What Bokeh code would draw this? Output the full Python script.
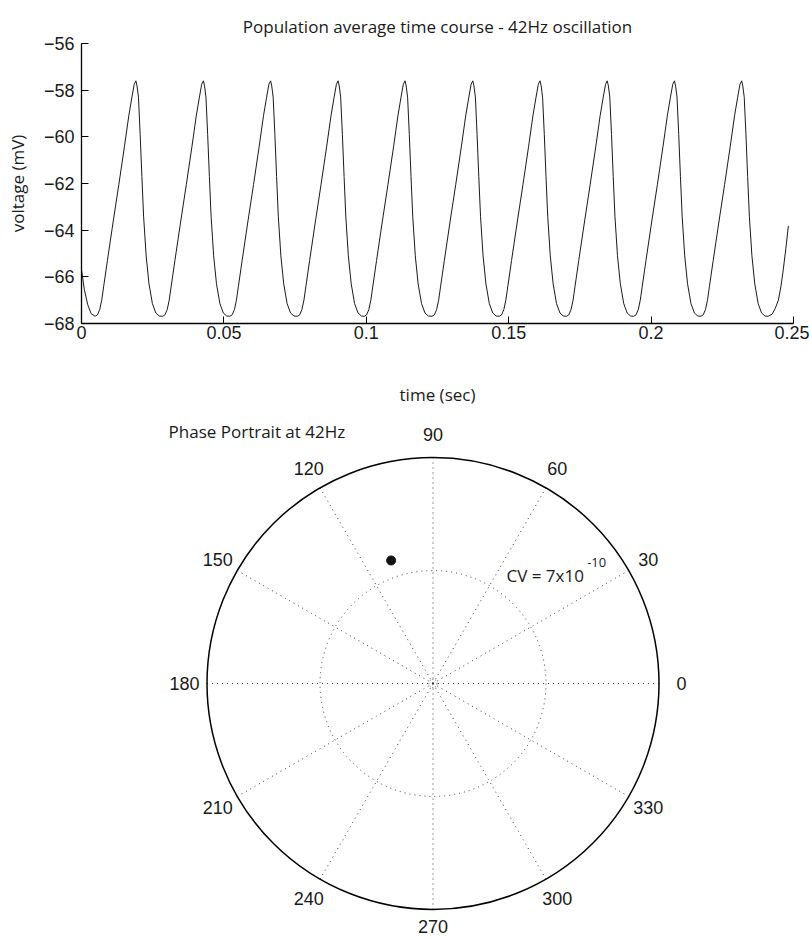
import numpy as np
from bokeh.plotting import figure
from bokeh.layouts import column
from bokeh.models import Range1d, FixedTicker, Label, ColumnDataSource
from bokeh.core.properties import value
from bokeh.embed import file_html
from bokeh.resources import INLINE

# ---------------- data: top panel ----------------
top_title = "Population average time course - 42Hz oscillation"
x_label = "time (sec)"
y_label = "voltage (mV)"
x_ticks = [0, 0.05, 0.1, 0.15, 0.2, 0.25]
x_tick_labels = ["0", "0.05", "0.1", "0.15", "0.2", "0.25"]
y_ticks = [-68, -66, -64, -62, -60, -58, -56]
y_tick_labels = ["\u221268", "\u221266", "\u221264", "\u221262", "\u221260", "\u221258", "\u221256"]

# times of the ten peaks (s)
peak_times = [0.0191, 0.0428, 0.0664, 0.0901, 0.1136, 0.1374, 0.1610, 0.1846, 0.2082, 0.2318]
# one cycle read around a peak: offset from the peak (s) and voltage (mV)
cycle_dt = [-0.0143, -0.0135, -0.0127, -0.0120, -0.0113, -0.0100, -0.0080, -0.0060,
            -0.0040, -0.0025, -0.0014, -0.0006, 0.0, 0.0004, 0.0009, 0.0015, 0.0021,
            0.0027, 0.0036, 0.0046, 0.0058, 0.0070, 0.0082]
cycle_v = [-67.69, -67.63, -67.40, -67.00, -66.40, -65.30, -63.65, -62.05,
           -60.40, -59.10, -58.30, -57.75, -57.60, -57.82, -58.30, -59.90, -61.70,
           -63.40, -65.10, -66.30, -67.15, -67.55, -67.68]
# start of the trace before the first trough, and its end after the last peak
lead_t = [0.0, 0.0010, 0.0022, 0.0034]
lead_v = [-65.70, -66.55, -67.20, -67.58]
tail_t = [0.2411, 0.2425, 0.2436, 0.2447, 0.2456, 0.2464, 0.2473, 0.2482]
tail_v = [-67.69, -67.60, -67.35, -67.00, -66.40, -65.70, -64.80, -63.82]

# ---------------- data: polar panel ----------------
polar_title = "Phase Portrait at 42Hz"
angle_ticks = [0, 30, 60, 90, 120, 150, 180, 210, 240, 270, 300, 330]
angle_labels = ["0", "30", "60", "90", "120", "150", "180", "210", "240", "270", "300", "330"]
inner_ring = [0.5]
center_ring = [0.018]
outer_ring = [1.0]
phase_deg = [108.8]
phase_r = [0.575]
cv_text = "CV = 7x10"
cv_exp = "-10"

# ---------------- build trace ----------------
t_vals = list(lead_t)
v_vals = list(lead_v)
for pk in peak_times:
    t_vals += [pk + d for d in cycle_dt]
    v_vals += list(cycle_v)
t_vals += tail_t
v_vals += tail_v
trace = ColumnDataSource(dict(t=t_vals, v=v_vals))

TXT = "#1a1a1a"
SANS = "Liberation Sans"
MYR = "Open Sans"
BL, BR = 81, 16

p1 = figure(width=809, height=410, x_range=Range1d(0, 0.25), y_range=Range1d(-68, -56),
            output_backend="svg", toolbar_location=None,
            min_border_left=BL, min_border_right=BR, min_border_top=43, min_border_bottom=87)
p1.line("t", "v", source=trace, line_color="#1a1a1a", line_width=1)
p1.grid.visible = False
p1.outline_line_color = None

p1.title.text = top_title
p1.title.align = "center"
p1.title.text_font = MYR
p1.title.text_font_size = "17px"
p1.title.text_font_style = "normal"
p1.title.text_color = TXT
p1.title.standoff = 12

for ax in (p1.xaxis[0], p1.yaxis[0]):
    ax.axis_line_color = "black"
    ax.axis_line_width = 1.3
    ax.major_tick_in = 7
    ax.major_tick_out = 0
    ax.major_tick_line_color = "black"
    ax.minor_tick_line_color = None
    ax.major_label_text_font = SANS
    ax.major_label_text_font_size = "18px"
    ax.major_label_text_color = TXT
    ax.axis_label_text_font = MYR
    ax.axis_label_text_font_size = "17px"
    ax.axis_label_text_font_style = "normal"
    ax.axis_label_text_color = TXT

p1.xaxis.ticker = FixedTicker(ticks=x_ticks)
p1.xaxis.major_label_overrides = {k: s for k, s in zip(x_ticks, x_tick_labels)}
p1.xaxis.axis_label = x_label
p1.xaxis.major_label_standoff = 2
p1.xaxis.axis_label_standoff = 41

p1.yaxis.ticker = FixedTicker(ticks=y_ticks)
p1.yaxis.major_label_overrides = {k: s for k, s in zip(y_ticks, y_tick_labels)}
p1.yaxis.axis_label = y_label
p1.yaxis.major_label_standoff = 7
p1.yaxis.axis_label_standoff = 12

# ---------------- polar panel ----------------
S = 226.0                 # pixels per unit radius
cx, cy = 432.5, 273.0     # centre in panel pixels
W2, H2 = 809, 528
fw = W2 - BL - BR
p2 = figure(width=W2, height=H2,
            x_range=Range1d(-(cx - BL) / S, (fw - (cx - BL)) / S),
            y_range=Range1d(-(H2 - cy) / S, cy / S),
            output_backend="svg", toolbar_location=None, x_axis_type=None, y_axis_type=None,
            min_border_left=BL, min_border_right=BR, min_border_top=0, min_border_bottom=0)
p2.grid.visible = False
p2.outline_line_color = None

ang = np.deg2rad(np.array(angle_ticks, dtype=float))
p2.segment(x0=0, y0=0, x1=np.cos(ang) * outer_ring[0], y1=np.sin(ang) * outer_ring[0],
           line_color="#3a3a3a", line_width=1, line_dash="1 4")
p2.circle(x=[0], y=[0], radius=inner_ring, fill_color=None, line_color="#3a3a3a",
          line_width=1, line_dash="1 4")
p2.circle(x=[0], y=[0], radius=center_ring, fill_color=None, line_color="#555555",
          line_width=1, line_dash="1 2")
p2.circle(x=[0], y=[0], radius=outer_ring, fill_color=None, line_color="black",
          line_width=1.5)

lab_x = 1.1 * np.cos(ang)
lab_y = np.maximum(1.1 * np.sin(ang), -(H2 - cy - 12) / S)
lab = ColumnDataSource(dict(x=lab_x, y=lab_y, s=angle_labels))
p2.text("x", "y", text="s", source=lab, text_align="center", text_baseline="middle",
        text_font=value(SANS), text_font_size="18px", text_color=TXT)

ph = np.deg2rad(np.array(phase_deg))
p2.scatter(x=np.array(phase_r) * np.cos(ph), y=np.array(phase_r) * np.sin(ph),
           size=9, color="#111111")

p2.add_layout(Label(x=0.325, y=0.478, text=cv_text, text_align="left",
                    text_baseline="alphabetic", text_font=MYR, text_font_size="17px",
                    text_color=TXT))
p2.add_layout(Label(x=0.682, y=0.537, text=cv_exp, text_align="left",
                    text_baseline="alphabetic", text_font=MYR, text_font_size="13px",
                    text_color=TXT))
p2.add_layout(Label(x=-1.170, y=1.116, text=polar_title, text_align="left",
                    text_baseline="alphabetic", text_font=MYR, text_font_size="17px",
                    text_color=TXT))

layout = column(p1, p2, spacing=0)
open("out.html", "w").write(file_html(layout, INLINE))
